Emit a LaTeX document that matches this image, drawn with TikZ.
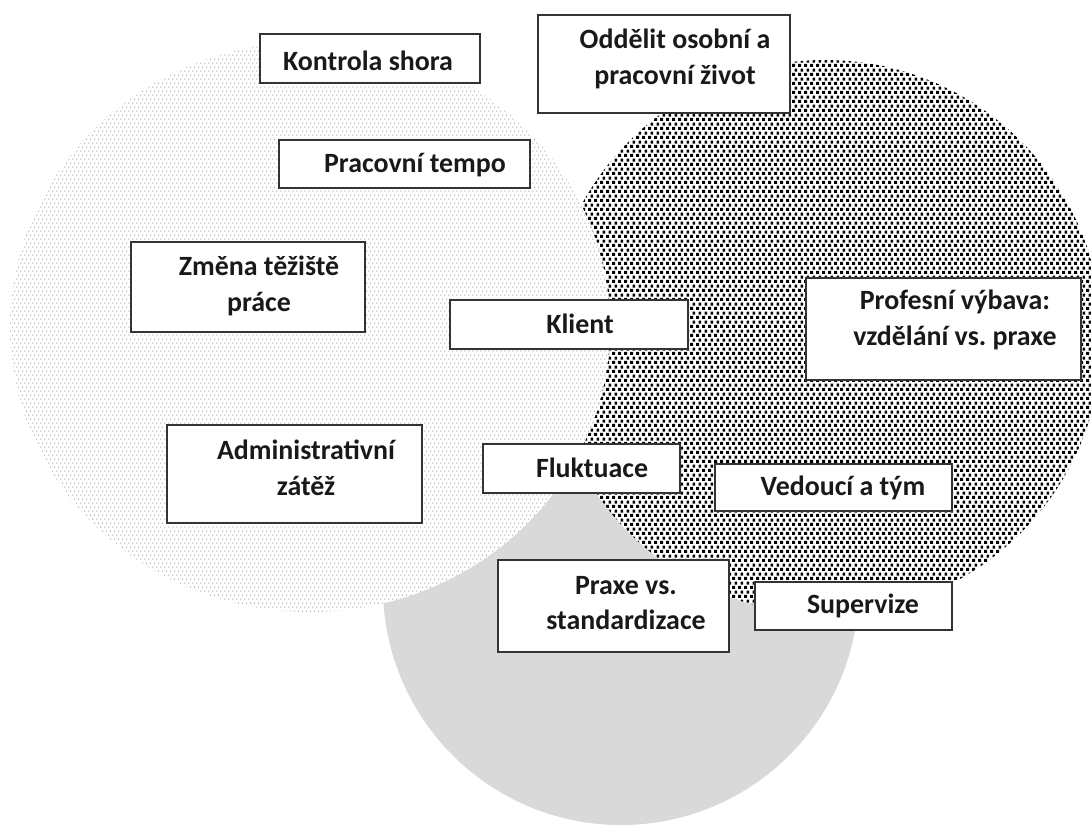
\documentclass[tikz,border=0pt]{standalone}
\usepackage{fontspec}
\setmainfont{Carlito}
\frenchspacing
\usetikzlibrary{patterns.meta}

\tikzdeclarepattern{name=lightdots, type=uncolored,
  bottom left={(0pt,0pt)}, top right={(4.2pt,8.4pt)}, tile size={(4.2pt,8.4pt)},
  code={\fill (1.05pt,2.1pt) circle (0.7pt); \fill (3.15pt,6.3pt) circle (0.7pt);}}
\tikzdeclarepattern{name=darkdots, type=uncolored,
  bottom left={(0pt,0pt)}, top right={(5.6pt,8.8pt)}, tile size={(5.6pt,8.8pt)},
  code={\fill (0pt,0pt) rectangle (3.3pt,3.3pt); \fill (2.8pt,4.4pt) rectangle (5.6pt,7.7pt);}}

\begin{document}
\begin{tikzpicture}[x=1bp, y=-1bp,
  box/.style={draw=black!80, line width=1.6pt, fill=white},
  lbl/.style={font=\bfseries\fontsize{28}{36}\selectfont, text=black!90, align=center, inner sep=0pt}]
\useasboundingbox (0,0) rectangle (1091,826);
\clip (0,0) rectangle (1091,826);
% circles
\fill[black!15] (621,587) circle (238);
\fill[white] (825,337) circle (277);
\fill[pattern=darkdots, pattern color=black] (825,337) circle (277);
\fill[white] (310,327) ellipse [x radius=300, y radius=285];
\fill[pattern=lightdots, pattern color=black!45] (310,327) ellipse [x radius=300, y radius=285];
% boxes
\draw[box] (260,34) rectangle (480,83);
\node[lbl] (kontrola) at (368,61) {Kontrola shora};
\draw[box] (538,15) rectangle (790,113);
\node[lbl] (oddelit) at (675,59) {Oddělit osobní a\\pracovní život};
\draw[box] (279,140) rectangle (530,188);
\node[lbl] (tempo) at (415,165) {Pracovní tempo};
\draw[box] (131,242) rectangle (365,332);
\node[lbl] (zmena) at (259,286) {Změna těžiště\\práce};
\draw[box] (450,300) rectangle (688,349);
\node[lbl] (klient) at (580,324) {Klient};
\draw[box] (806,278) rectangle (1081,380);
\node[lbl] (vybava) at (955,320) {Profesní výbava:\\vzdělání vs. praxe};
\draw[box] (167,425) rectangle (422,523);
\node[lbl] (admin) at (306,468) {Administrativní\\zátěž};
\draw[box] (483,444) rectangle (680,493);
\node[lbl] (fluktuace) at (592,468) {Fluktuace};
\draw[box] (715,464) rectangle (952,511);
\node[lbl] (vedouci) at (843,488) {Vedoucí a tým};
\draw[box] (498,560) rectangle (729,652);
\node[lbl] (praxe) at (626,603) {Praxe vs.\\standardizace};
\draw[box] (755,582) rectangle (952,630);
\node[lbl] (supervize) at (863,606) {Supervize};
\end{tikzpicture}
\end{document}
